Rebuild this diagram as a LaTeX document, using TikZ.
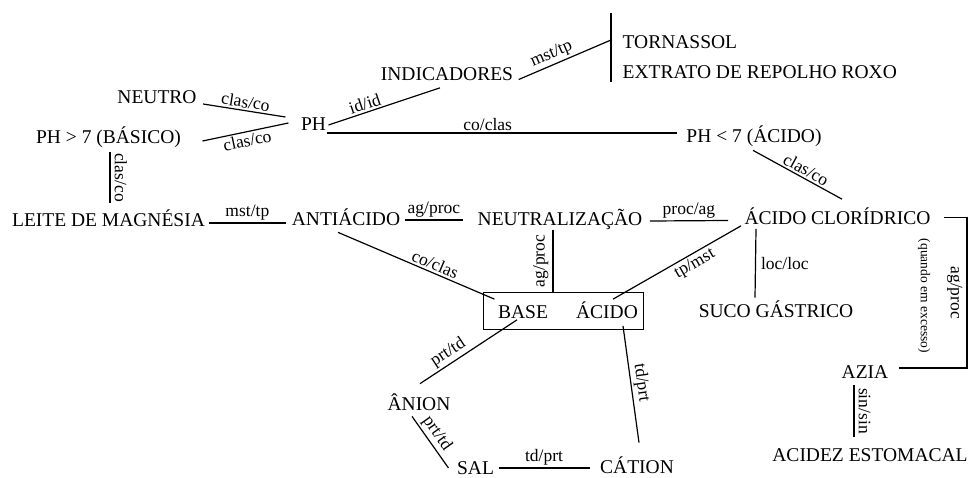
\documentclass[tikz,border=0pt]{standalone}
\usepackage{fontspec}
\setmainfont{Liberation Serif}
\usetikzlibrary{calc}
\begin{document}
\begin{tikzpicture}[x=1pt,y=-1pt,line width=1.2pt,
		conc/.style={font=\fontsize{19.5}{20}\selectfont,inner sep=0pt,text height=13.5pt,text depth=0pt},
		lig/.style={font=\fontsize{17.5}{18}\selectfont,inner sep=2pt},
		ligv/.style={lig,inner sep=4pt},
		obs/.style={font=\fontsize{13.5}{14}\selectfont,inner sep=0pt}]
			\useasboundingbox (0,0) rectangle (969,477);
			\node[conc] (neutro) at (157,97) {NEUTRO};
			\node[conc] (basico) at (108.5,137) {PH > 7 (BÁSICO)};
			\node[conc] (ph) at (313.5,124) {PH};
			\node[conc] (ind) at (447,73.5) {INDICADORES};
			\node[conc,anchor=west] (torn) at (622,42) {TORNASSOL};
			\node[conc,anchor=west] (extr) at (622,72) {EXTRATO DE REPOLHO ROXO};
			\node[conc] (phac) at (754,136) {PH < 7 (ÁCIDO)};
			\node[conc] (leite) at (108.5,220) {LEITE DE MAGNÉSIA};
			\node[conc] (anti) at (346,219) {ANTIÁCIDO};
			\node[conc] (neut) at (560,219) {NEUTRALIZAÇÃO};
			\node[conc] (acl) at (837.5,217.5) {ÁCIDO CLORÍDRICO};
			\node[draw,line width=0.8pt,minimum width=160pt,minimum height=37pt,inner sep=0pt] (par) at (563,310.5) {};
			\node[conc] (base) at (523,311.5) {BASE};
			\node[conc] (acido) at (607,311.5) {ÁCIDO};
			\node[conc] (suco) at (776,311) {SUCO GÁSTRICO};
			\node[conc] (azia) at (865,372) {AZIA};
			\node[conc] (acidez) at (870,455) {ACIDEZ ESTOMACAL};
			\node[conc] (anion) at (419,404) {ÂNION};
			\node[conc] (sal) at (475.5,468) {SAL};
			\node[conc] (cation) at (637,467) {CÁTION};
			\coordinate (bartop) at (611,13);
			\coordinate (barmid) at (611,40);
			\coordinate (barbot) at (611,82);
			\coordinate (dobrasup) at (967,217.5);
			\coordinate (dobrainf) at (967,368);
			\draw (bartop) -- (barbot);
			\draw ($(neutro.east)+(6,7)$) -- node[lig,sloped,above]{clas/co} ($(ph.west)+(-15,-7)$);
			\draw ($(basico.east)+(21,4)$) -- node[lig,sloped,below]{clas/co} ($(ph.west)+(-12,-1)$);
			\draw ($(basico.south)+(1.5,8)$) -- node[ligv,rotate=-90,anchor=south]{clas/co} ($(leite.north)+(1.5,-10)$);
			\draw ($(ph.east)+(2,1)$) -- node[lig,sloped,above,pos=0.35]{id/id} ($(ind.south)+(-7,7)$);
			\draw ($(ind.east)+(5,6)$) -- node[lig,sloped,above,pos=0.4]{mst/tp} (barmid);
			\draw ($(ph.east)+(0,9)$) -- node[lig,above,pos=0.46]{co/clas} ($(phac.west)+(-9,-3)$);
			\draw ($(phac.south)+(-1,7)$) -- node[lig,sloped,above,pos=0.55]{clas/co} ($(acl.north)+(4.5,-11)$);
			\draw ($(leite.east)+(3,3)$) -- node[lig,above]{mst/tp} ($(anti.west)+(-5,4)$);
			\draw ($(anti.east)+(4,1)$) -- node[lig,above]{ag/proc} ($(neut.west)+(-14,1)$);
			\draw ($(neut.east)+(7,2)$) -- node[lig,above]{proc/ag} ($(acl.west)+(-16,3)$);
			\draw ($(anti.south)+(-8,6)$) -- node[lig,sloped,above,pos=0.6]{co/clas} ($(base.north west)+(-3,-5)$);
			\draw ($(par.north)+(-10,0)$) -- node[ligv,rotate=90,anchor=south]{ag/proc} ($(neut.south)+(-7,4)$);
			\draw ($(acido.north)+(6,-5)$) -- node[lig,sloped,below,pos=0.6]{tp/mst} ($(acl.south west)+(-3,1)$);
			\draw ($(acl.south west)+(12,4)$) -- node[lig,right=3pt]{loc/loc} ($(suco.north)+(-21,-6)$);
			\draw ($(acl.east)+(13,0)$) -- (dobrasup) -- node[ligv,rotate=-90,anchor=north,pos=0.5]{ag/proc} (dobrainf) -- ($(azia.east)+(10,-4)$);
			\node[obs,rotate=-90] (quando) at ($(dobrasup)!0.52!(dobrainf)+(-43,0)$) {(quando em excesso)};
			\draw ($(azia.south)+(-11,6)$) -- node[ligv,rotate=-90,anchor=south]{sin/sin} ($(acidez.north)+(-16,-11)$);
			\draw ($(anion.north)+(1,-13)$) -- node[lig,sloped,above,pos=0.35]{prt/td} ($(base.south)+(-6,1)$);
			\draw ($(anion.south)+(-7,5)$) -- node[lig,sloped,above,pos=0.45]{prt/td} ($(sal.west)+(-8,0)$);
			\draw ($(sal.east)+(4,0)$) -- node[lig,above]{td/prt} ($(cation.west)+(-10,1)$);
			\draw ($(acido.south)+(16,7)$) -- node[lig,sloped,above]{td/prt} ($(cation.north)+(2,-17)$);
		\end{tikzpicture}
\end{document}
